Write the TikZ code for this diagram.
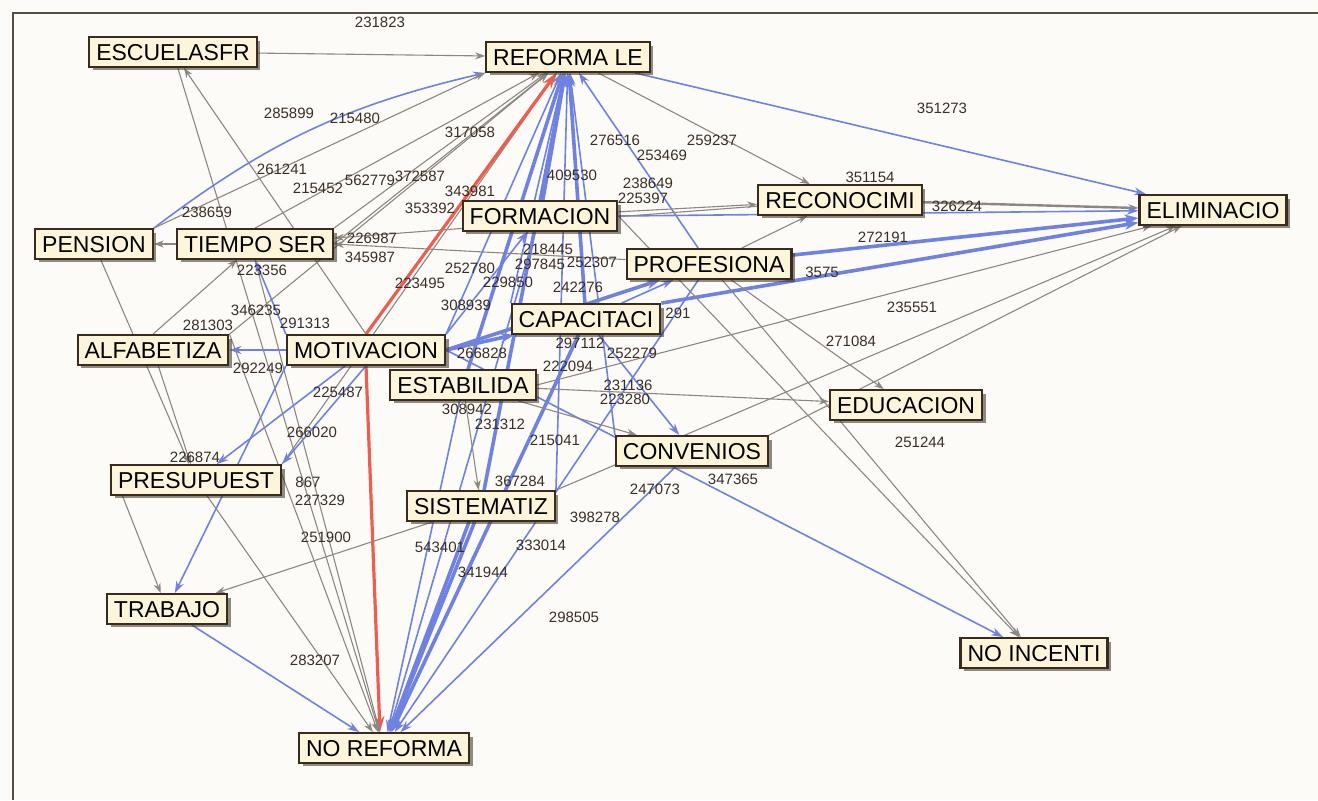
\documentclass[tikz,border=0pt]{standalone}
\usepackage{fontspec}
\setmainfont{Liberation Sans}
\usetikzlibrary{%
	positioning,
	arrows.meta,
	shadows
}
\definecolor{boxfill}{HTML}{FCF5D9}
\definecolor{boxline}{HTML}{3A2B1F}
\definecolor{linkgray}{HTML}{8E8781}
\definecolor{linkblue}{HTML}{6F82E0}
\definecolor{linkred}{HTML}{EE5E4E}
\definecolor{numtext}{HTML}{3B2E25}
\definecolor{paper}{HTML}{FCFBF8}
\definecolor{framecol}{HTML}{5B4C42}
\pgfdeclarelayer{paperlayer}
\pgfdeclarelayer{linklayer}
\pgfsetlayers{paperlayer,linklayer,main}

\begin{document}
\begin{tikzpicture}[x=0.5pt,y=-0.5pt,
		Var/.style={draw=boxline,line width=1.1pt,fill=boxfill,font=\fontsize{11.5}{12}\selectfont,text height=8.4pt,text depth=0pt,inner xsep=3.5pt,inner ysep=3.2pt,drop shadow={shadow xshift=1.8pt,shadow yshift=-1.8pt,fill=boxline,opacity=.55}},
		Num/.style={font=\fontsize{7.5}{8}\selectfont,text=numtext,inner sep=0pt},
		gl/.style={draw=linkgray,line width=.55pt,-{Stealth[length=5pt,width=3.5pt]}},
		bl/.style={draw=linkblue,line width=.8pt,-{Stealth[length=6pt,width=4pt]}},
		Bl/.style={draw=linkblue,line width=1.8pt,-{Stealth[length=7pt,width=5pt]}},
		rl/.style={draw=linkred,line width=1.6pt,-{Stealth[length=8pt,width=5pt]}}
	]
	
	\useasboundingbox (0,0) rectangle (1318,800);
	\begin{pgfonlayer}{paperlayer}
		\fill[paper] (0,0) rectangle (1318,800);
		\draw[framecol,line width=1.3pt] (13,800) -- (13,13) -- (1318,13);
	\end{pgfonlayer}
	
	% variables
	\node(esc) [Var] at (173,52) {ESCUELASFR};
	\node(ref) [Var] at (568,57) {REFORMA LE};
	\node(pen) [Var] at (94,244) {PENSION};
	\node(tie) [Var] at (255,244) {TIEMPO SER};
	\node(for) [Var] at (540,216) {FORMACION};
	\node(rec) [Var] at (840,200) {RECONOCIMI};
	\node(eli) [Var] at (1213,210) {ELIMINACIO};
	\node(pro) [Var] at (709,264) {PROFESIONA};
	\node(cap) [Var] at (586,319) {CAPACITACI};
	\node(alf) [Var] at (153,350) {ALFABETIZA};
	\node(mot) [Var] at (366,350) {MOTIVACION};
	\node(est) [Var] at (463,385) {ESTABILIDA};
	\node(edu) [Var] at (906,405) {EDUCACION};
	\node(con) [Var] at (692,451) {CONVENIOS};
	\node(pre) [Var] at (196,480) {PRESUPUEST};
	\node(sis) [Var] at (481,506) {SISTEMATIZ};
	\node(tra) [Var] at (167,609) {TRABAJO};
	\node(noi) [Var] at (1034,653) {NO INCENTI};
	\node(nor) [Var] at (384,748) {NO REFORMA};
	
	\begin{pgfonlayer}{linklayer}
		% into REFORMA LE
		\draw[gl] (esc) -- (ref);
		\draw[bl] (pen.north east) to[bend left=12] (ref.south west);
		\draw[gl] (pen.north east) -- (ref.south west);
		\draw[gl] (tie.north) -- (ref);
		\draw[gl] (tie.north east) -- (ref);
		\draw[gl] (tie.east) -- (ref);
		\draw[gl] (alf.north east) -- (ref);
		\draw[gl] (pre.north east) -- (ref);
		\draw[bl] (mot.north east) -- (ref);
		\draw[Bl] (for) -- (ref);
		\draw[Bl] (cap) -- (ref);
		\draw[bl] (cap.north west) -- (ref);
		\draw[Bl] (est) -- (ref);
		\draw[Bl] (sis) -- (ref);
		\draw[bl] (sis.north east) -- (ref);
		\draw[bl] (pro) -- (ref);
		\draw[bl] (con.north west) -- (ref);
		\draw[gl] (ref) -- (rec);
		\draw[rl] (mot.north) -- (ref);
		
		% into ELIMINACIO
		\draw[bl] (ref) -- (eli);
		\draw[gl,line width=1.2pt] (rec) -- (eli);
		\draw[Bl] (pro) -- (eli);
		\draw[Bl] (cap.north east) -- (eli);
		\draw[bl] (for.east) -- (eli);
		\draw[gl] (con.north east) -- (eli);
		\draw[gl] (est.east) -- (eli);
		\draw[gl] (sis.north east) -- (eli);
		
		% into NO INCENTI
		\draw[gl] (pro) -- (noi);
		\draw[gl] (for.east) -- (noi);
		\draw[bl] (mot.east) -- (noi);
		
		% into NO REFORMA
		\draw[rl] (mot.south) -- ([xshift=-2pt]nor.north);
		\draw[bl] (tra) -- (nor);
		\draw[gl] (pre) -- (nor);
		\draw[gl] (tie.south) -- (nor);
		\draw[gl] (alf.north east) -- (nor);
		\draw[gl] (esc) -- (nor);
		\draw[Bl] (sis) -- (nor);
		\draw[Bl] (sis.north) -- (nor);
		\draw[Bl] (cap) -- (nor);
		\draw[bl] (for) -- (nor);
		\draw[bl] (pro) -- (nor);
		\draw[bl] (est) -- (nor);
		\draw[bl] (con) -- (nor);
		
		% around MOTIVACION
		\draw[gl] (mot.north) -- (esc);
		\draw[bl] (mot) -- (alf);
		\draw[bl] (mot) -- (pre);
		\draw[bl] (mot.south) -- (pre.north east);
		\draw[bl] (mot.north west) -- (tie.south);
		\draw[bl] (mot.south west) -- (tra);
		\draw[Bl] (mot.east) -- (cap);
		\draw[Bl] (mot.east) -- (pro);
		\draw[bl] (mot.north east) -- (for);
		
		% the rest
		\draw[gl] (alf.north) -- (tie);
		\draw[gl] (pen) -- (pre);
		\draw[gl] (alf) -- (pre);
		\draw[gl] (tie) -- (pen);
		\draw[gl] (rec) -- (tie);
		\draw[gl] (pro) -- (tie.east);
		\draw[gl] (for) -- (rec);
		\draw[gl] (pro) -- (rec);
		\draw[bl] (cap) -- (pro);
		\draw[gl] (pro) -- (edu);
		\draw[gl] (est) -- (edu);
		\draw[bl] (cap) -- (con);
		\draw[gl] (est) -- (con);
		\draw[gl] (est) -- (sis);
		\draw[gl] (sis) -- (tra);
		\draw[gl] (pre.north west) -- (tra);
		
		% weights
		\node(n231823) [Num] at (380,22) {231823};
		\node(n285899) [Num] at (289,113) {285899};
		\node(n215480) [Num] at (355,118) {215480};
		\node(n351273) [Num] at (942,108) {351273};
		\node(n317058) [Num] at (470,132) {317058};
		\node(n276516) [Num] at (615,140) {276516};
		\node(n253469) [Num] at (662,155) {253469};
		\node(n259237) [Num] at (712,140) {259237};
		\node(n261241) [Num] at (282,169) {261241};
		\node(n215452) [Num] at (318,188) {215452};
		\node(n562779) [Num] at (370,180) {562779};
		\node(n372587) [Num] at (420,176) {372587};
		\node(n343981) [Num] at (470,191) {343981};
		\node(n409530) [Num] at (572,175) {409530};
		\node(n238649) [Num] at (648,183) {238649};
		\node(n225397) [Num] at (643,198) {225397};
		\node(n238659) [Num] at (207,212) {238659};
		\node(n353392) [Num] at (430,208) {353392};
		\node(n351154) [Num] at (870,177) {351154};
		\node(n326224) [Num] at (957,206) {326224};
		\node(n272191) [Num] at (883,237) {272191};
		\node(n226987) [Num] at (372,238) {226987};
		\node(n345987) [Num] at (370,257) {345987};
		\node(n223356) [Num] at (262,270) {223356};
		\node(n218445) [Num] at (548,249) {218445};
		\node(n297845) [Num] at (540,264) {297845};
		\node(n252307) [Num] at (592,262) {252307};
		\node(n223495) [Num] at (420,283) {223495};
		\node(n252780) [Num] at (470,268) {252780};
		\node(n229850) [Num] at (508,282) {229850};
		\node(n242276) [Num] at (578,287) {242276};
		\node(n3575) [Num] at (822,272) {3575};
		\node(n346235) [Num] at (256,310) {346235};
		\node(n291313) [Num] at (305,323) {291313};
		\node(n281303) [Num] at (208,325) {281303};
		\node(n308939) [Num] at (466,305) {308939};
		\node(n291) [Num] at (678,313) {291};
		\node(n235551) [Num] at (912,307) {235551};
		\node(n271084) [Num] at (851,341) {271084};
		\node(n266828) [Num] at (482,353) {266828};
		\node(n297112) [Num] at (580,343) {297112};
		\node(n252279) [Num] at (632,353) {252279};
		\node(n292249) [Num] at (258,368) {292249};
		\node(n225487) [Num] at (338,392) {225487};
		\node(n222094) [Num] at (568,366) {222094};
		\node(n231136) [Num] at (628,385) {231136};
		\node(n223280) [Num] at (625,399) {223280};
		\node(n308942) [Num] at (467,409) {308942};
		\node(n231312) [Num] at (500,424) {231312};
		\node(n215041) [Num] at (555,440) {215041};
		\node(n251244) [Num] at (920,442) {251244};
		\node(n226874) [Num] at (195,457) {226874};
		\node(n266020) [Num] at (312,432) {266020};
		\node(n867) [Num] at (308,482) {867};
		\node(n227329) [Num] at (320,500) {227329};
		\node(n367284) [Num] at (520,481) {367284};
		\node(n247073) [Num] at (655,489) {247073};
		\node(n347365) [Num] at (733,479) {347365};
		\node(n398278) [Num] at (595,517) {398278};
		\node(n251900) [Num] at (326,537) {251900};
		\node(n543401) [Num] at (440,547) {543401};
		\node(n333014) [Num] at (541,545) {333014};
		\node(n341944) [Num] at (483,572) {341944};
		\node(n298505) [Num] at (574,617) {298505};
		\node(n283207) [Num] at (315,660) {283207};
	\end{pgfonlayer}
	
\end{tikzpicture}
\end{document}
